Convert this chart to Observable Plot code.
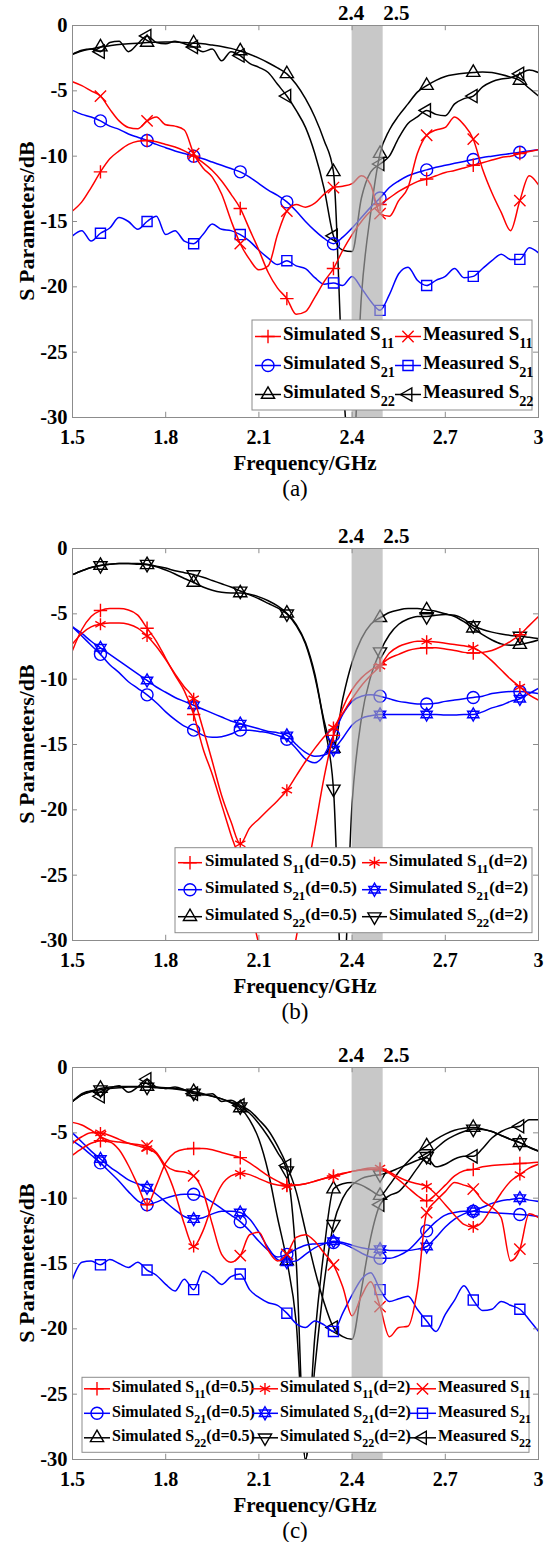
<!DOCTYPE html>
<html>
<head>
<meta charset="utf-8">
<script src="https://cdn.jsdelivr.net/npm/d3@7"></script>
<script src="https://cdn.jsdelivr.net/npm/@observablehq/plot@0.6"></script>
<style>
html,body{margin:0;padding:0;background:#fff;}
#root{position:relative;width:546px;height:1542px;overflow:hidden;background:#fff;}
.panel{position:absolute;left:0;width:546px;}
</style>
</head>
<body>
<div id="root"></div>
<script>
// ---------- shared axes ----------
const freq = [1.5,1.53,1.56,1.59,1.62,1.65,1.68,1.71,1.74,1.77,1.8,1.83,1.86,1.89,1.92,1.95,1.98,2.01,2.04,2.07,2.1,2.13,2.16,2.19,2.22,2.25,2.28,2.31,2.34,2.37,2.4,2.43,2.46,2.49,2.52,2.55,2.58,2.61,2.64,2.67,2.7,2.73,2.76,2.79,2.82,2.85,2.88,2.91,2.94,2.97,3.0];
const markerFreqs = [1.59,1.74,1.89,2.04,2.19,2.34,2.49,2.64,2.79,2.94];
const xTicks = [1.5,1.8,2.1,2.4,2.7,3.0];
const xTickLabels = ["1.5","1.8","2.1","2.4","2.7","3"];
const yTicks = [0,-5,-10,-15,-20,-25,-30];
const yTickLabels = ["0","-5","-10","-15","-20","-25","-30"];
const yDomain = [-30, 0];
const bandEdges = [2.4, 2.5];
const bandLabels = ["2.4", "2.5"];
const captions = ["(a)", "(b)", "(c)"];

// ---------- panel (a) ----------
const aSimS11 = [-14.2,-13.5,-12.4,-11.2,-10.2,-9.6,-9.1,-8.85,-8.8,-8.9,-9.1,-9.3,-9.6,-10.0,-10.5,-11.1,-11.9,-12.9,-14.0,-15.6,-17.2,-18.9,-20.1,-20.9,-22.1,-21.9,-20.8,-19.6,-18.6,-17.2,-16.0,-15.0,-14.2,-13.7,-13.2,-12.7,-12.3,-11.95,-11.75,-11.5,-11.25,-11.1,-10.9,-10.7,-10.5,-10.3,-10.1,-10.0,-9.8,-9.65,-9.5];
const aMeasS11 = [-4.3,-4.6,-5.0,-5.4,-6.4,-7.3,-7.8,-7.9,-7.3,-7.0,-7.6,-7.7,-8.0,-9.8,-10.9,-11.6,-12.9,-14.9,-16.7,-17.9,-18.7,-18.4,-16.0,-14.2,-13.7,-13.9,-13.6,-12.9,-12.4,-12.3,-12.1,-11.5,-12.2,-14.4,-14.6,-13.4,-12.4,-9.8,-8.4,-8.0,-7.8,-7.0,-7.6,-8.7,-11.0,-12.8,-14.3,-15.7,-13.4,-11.5,-12.2];
const aSimS21 = [-6.5,-6.8,-7.0,-7.3,-7.7,-7.95,-8.3,-8.55,-8.8,-9.1,-9.35,-9.6,-9.8,-10.0,-10.2,-10.45,-10.7,-10.95,-11.2,-11.6,-12.1,-12.6,-13.0,-13.5,-14.2,-15.0,-15.7,-16.3,-16.7,-16.2,-15.5,-14.7,-13.9,-13.2,-12.4,-11.9,-11.5,-11.25,-11.05,-10.85,-10.7,-10.55,-10.4,-10.25,-10.1,-10.0,-9.9,-9.8,-9.7,-9.6,-9.5];
const aMeasS21 = [-16.1,-15.7,-16.5,-15.9,-15.5,-14.7,-15.0,-15.6,-15.0,-14.6,-16.0,-15.7,-16.5,-16.7,-16.0,-15.2,-15.6,-15.7,-16.0,-16.5,-17.2,-17.8,-18.3,-18.0,-18.4,-18.6,-19.3,-19.8,-19.7,-19.9,-19.2,-20.1,-21.1,-21.8,-20.6,-19.0,-18.5,-19.5,-19.9,-19.5,-19.2,-18.6,-19.3,-19.2,-18.6,-18.0,-17.5,-17.9,-17.9,-17.0,-17.4];
const aSimS22 = [-2.2,-1.95,-1.8,-1.65,-1.55,-1.45,-1.4,-1.35,-1.3,-1.28,-1.27,-1.27,-1.3,-1.35,-1.4,-1.5,-1.6,-1.75,-1.95,-2.2,-2.5,-2.85,-3.25,-3.7,-4.5,-5.6,-7.0,-8.8,-11.2,-27.0,-34.0,-20.7,-14.3,-9.8,-8.0,-6.9,-6.0,-5.1,-4.6,-4.2,-3.9,-3.75,-3.65,-3.6,-3.55,-3.6,-3.75,-3.95,-4.2,-4.8,-5.4];
const aMeasS22 = [-2.2,-1.9,-1.8,-2.0,-1.3,-1.2,-2.0,-1.4,-0.8,-1.3,-1.4,-1.2,-1.4,-1.65,-2.0,-1.8,-2.7,-2.0,-2.3,-2.9,-3.2,-3.6,-4.5,-5.4,-6.5,-7.8,-9.8,-12.5,-16.1,-17.2,-17.3,-13.2,-11.2,-10.6,-10.0,-8.6,-7.5,-7.0,-6.5,-6.8,-6.9,-6.0,-5.6,-5.4,-4.7,-4.3,-4.1,-4.0,-3.7,-3.4,-3.6];

// ---------- panel (b) ----------
const bS11d05 = [-7.8,-6.2,-5.2,-4.75,-4.6,-4.6,-4.7,-5.1,-6.1,-7.1,-8.4,-9.7,-10.9,-12.7,-15.3,-17.3,-19.6,-21.9,-24.0,-27.1,-30.3,-32.5,-33.5,-33.0,-29.8,-25.5,-21.5,-17.5,-14.3,-12.2,-10.8,-9.9,-9.3,-8.9,-8.4,-8.1,-7.8,-7.65,-7.6,-7.6,-7.7,-7.8,-7.95,-8.0,-7.95,-7.8,-7.5,-7.1,-6.6,-5.9,-5.2];
const bS11d2 = [-7.3,-6.5,-6.0,-5.8,-5.7,-5.7,-5.8,-6.1,-6.7,-7.5,-8.5,-9.6,-10.6,-11.5,-13.8,-16.3,-18.9,-20.9,-22.6,-21.4,-20.7,-20.0,-19.3,-18.5,-17.4,-16.3,-15.3,-14.4,-13.7,-12.6,-11.5,-10.5,-9.7,-9.0,-8.0,-7.5,-7.25,-7.1,-7.1,-7.15,-7.25,-7.35,-7.45,-7.6,-8.0,-8.6,-9.3,-10.0,-10.6,-11.2,-11.6];
const bS21d05 = [-6.0,-6.7,-7.4,-8.1,-8.9,-9.5,-10.2,-10.7,-11.2,-11.8,-12.5,-13.1,-13.6,-13.9,-14.3,-14.45,-14.4,-14.2,-13.9,-13.9,-14.0,-14.1,-14.3,-14.6,-15.3,-16.1,-16.4,-15.8,-14.3,-12.7,-11.7,-11.3,-11.2,-11.3,-11.5,-11.7,-11.8,-11.9,-11.9,-11.85,-11.7,-11.6,-11.5,-11.4,-11.3,-11.1,-11.0,-10.95,-10.95,-11.0,-11.1];
const bS21d2 = [-6.0,-6.5,-7.1,-7.6,-8.1,-8.6,-9.1,-9.6,-10.1,-10.6,-11.0,-11.4,-11.7,-12.0,-12.3,-12.6,-12.9,-13.2,-13.4,-13.6,-13.8,-14.0,-14.1,-14.3,-15.0,-15.6,-15.9,-15.8,-15.4,-14.5,-13.5,-13.0,-12.8,-12.7,-12.7,-12.7,-12.7,-12.7,-12.7,-12.7,-12.75,-12.75,-12.7,-12.7,-12.5,-12.2,-12.0,-11.7,-11.5,-11.1,-10.7];
const bS22d05 = [-2.0,-1.7,-1.45,-1.3,-1.2,-1.15,-1.15,-1.2,-1.25,-1.4,-1.65,-1.95,-2.3,-2.6,-2.95,-3.2,-3.35,-3.4,-3.4,-3.5,-3.7,-4.0,-4.4,-4.95,-5.8,-7.2,-9.6,-13.2,-15.3,-11.5,-8.7,-6.9,-5.8,-5.3,-4.9,-4.7,-4.6,-4.6,-4.7,-4.8,-5.0,-5.2,-5.6,-6.1,-6.6,-7.0,-7.3,-7.4,-7.35,-7.2,-7.0];
const bS22d2 = [-2.0,-1.7,-1.45,-1.3,-1.2,-1.15,-1.15,-1.15,-1.2,-1.35,-1.5,-1.7,-1.85,-2.0,-2.2,-2.45,-2.7,-2.95,-3.25,-3.55,-3.85,-4.2,-4.55,-5.0,-5.9,-7.3,-9.8,-13.5,-18.4,-34.0,-19.5,-13.0,-9.8,-7.9,-6.6,-5.8,-5.4,-5.2,-5.2,-5.1,-5.05,-5.1,-5.4,-5.9,-6.2,-6.4,-6.55,-6.65,-6.7,-6.8,-6.9];

// ---------- panel (c) ----------
const cS11d05 = [-6.7,-6.2,-5.8,-5.6,-5.7,-6.3,-7.5,-9.0,-10.5,-9.0,-7.3,-6.5,-6.25,-6.2,-6.2,-6.3,-6.5,-6.7,-6.9,-7.3,-7.8,-8.3,-8.7,-9.0,-9.0,-8.9,-8.7,-8.5,-8.3,-8.1,-7.95,-7.85,-7.8,-7.8,-8.1,-8.6,-9.2,-9.8,-10.2,-9.7,-9.0,-8.3,-7.9,-7.8,-7.6,-7.5,-7.45,-7.4,-7.35,-7.3,-7.25];
const cS11d2 = [-5.8,-5.3,-5.0,-5.0,-5.2,-5.5,-5.8,-6.0,-6.2,-6.6,-7.8,-9.6,-12.0,-13.7,-12.5,-10.5,-9.0,-8.3,-8.1,-8.2,-8.5,-8.8,-9.0,-9.1,-9.0,-8.9,-8.7,-8.5,-8.35,-8.15,-7.95,-7.8,-7.7,-7.7,-8.0,-8.4,-8.7,-8.9,-9.1,-9.7,-10.5,-11.3,-12.0,-12.2,-11.8,-10.7,-9.6,-8.7,-8.2,-7.7,-7.4];
const cMeasS11 = [-4.2,-4.4,-4.8,-5.3,-5.6,-5.7,-5.8,-5.9,-6.0,-6.5,-7.5,-7.9,-8.0,-8.3,-9.5,-12.0,-14.3,-14.9,-14.4,-12.8,-12.6,-14.0,-14.8,-14.3,-13.0,-12.8,-13.3,-14.2,-15.1,-16.8,-19.0,-17.5,-16.4,-18.3,-20.6,-19.9,-19.8,-17.0,-11.1,-10.2,-9.5,-8.8,-9.0,-9.3,-10.2,-10.7,-11.5,-14.8,-13.9,-11.2,-11.5];
const cS21d05 = [-5.6,-6.1,-6.7,-7.3,-8.0,-8.7,-9.5,-10.2,-10.5,-10.3,-10.0,-9.8,-9.7,-9.7,-9.9,-10.3,-10.8,-11.3,-11.8,-12.5,-13.3,-14.0,-14.5,-14.3,-13.9,-13.6,-13.5,-13.45,-13.4,-13.5,-13.8,-14.2,-14.5,-14.6,-14.6,-14.4,-14.0,-13.3,-12.5,-11.8,-11.3,-11.1,-11.0,-11.0,-11.05,-11.1,-11.15,-11.2,-11.25,-11.3,-11.4];
const cS21d2 = [-5.0,-5.7,-6.4,-7.0,-7.6,-8.1,-8.6,-8.9,-9.2,-9.7,-10.3,-10.9,-11.4,-11.6,-11.5,-11.2,-11.0,-11.0,-11.1,-11.6,-12.6,-13.8,-14.7,-14.9,-14.8,-14.3,-13.8,-13.5,-13.3,-13.4,-13.6,-13.8,-13.9,-13.9,-14.0,-14.0,-14.0,-13.9,-13.7,-13.0,-12.2,-11.6,-11.2,-11.0,-10.7,-10.4,-10.2,-10.1,-10.0,-10.15,-10.25];
const cMeasS21 = [-16.2,-14.9,-14.8,-15.1,-14.7,-15.0,-15.3,-14.9,-15.5,-15.9,-16.6,-17.1,-16.2,-17.0,-15.6,-16.0,-16.6,-16.0,-15.8,-17.0,-17.6,-18.0,-18.2,-18.8,-19.6,-19.9,-19.4,-19.7,-20.2,-18.8,-17.4,-16.2,-15.7,-17.0,-17.9,-17.7,-17.5,-18.5,-19.4,-20.2,-18.9,-17.8,-16.7,-17.8,-18.6,-18.5,-17.9,-18.2,-18.5,-19.3,-20.2];
const cS22d05 = [-2.6,-2.1,-1.8,-1.6,-1.5,-1.45,-1.45,-1.45,-1.45,-1.5,-1.55,-1.6,-1.7,-1.85,-2.0,-2.2,-2.4,-2.7,-3.1,-4.0,-5.5,-8.0,-11.5,-14.8,-19.5,-30.0,-20.6,-13.9,-9.3,-8.9,-8.8,-9.0,-9.4,-9.8,-9.0,-8.0,-7.2,-6.5,-6.0,-5.5,-5.1,-4.8,-4.65,-4.6,-4.7,-4.9,-5.2,-5.5,-5.75,-6.1,-6.4];
const cS22d2 = [-2.6,-2.1,-1.85,-1.7,-1.6,-1.55,-1.5,-1.5,-1.5,-1.55,-1.6,-1.65,-1.75,-1.95,-2.05,-2.2,-2.4,-2.65,-3.0,-3.5,-4.3,-5.3,-6.5,-7.9,-14.8,-30.0,-23.0,-16.5,-12.0,-10.0,-9.0,-8.5,-8.3,-8.2,-8.0,-7.7,-7.4,-7.1,-6.8,-6.2,-5.6,-5.2,-4.9,-4.7,-4.75,-4.9,-5.2,-5.5,-5.75,-6.1,-6.4];
const cMeasS22 = [-2.6,-2.0,-1.8,-2.2,-1.6,-1.4,-1.9,-1.5,-0.9,-1.5,-1.6,-1.5,-1.7,-2.0,-2.1,-2.0,-2.6,-2.5,-2.9,-3.3,-4.0,-4.8,-6.0,-7.5,-9.5,-12.5,-15.5,-18.0,-19.9,-20.6,-20.8,-17.0,-13.0,-10.5,-9.8,-9.5,-8.7,-7.7,-6.9,-7.6,-7.4,-7.0,-6.8,-6.8,-6.2,-5.4,-4.9,-4.6,-4.5,-4.0,-4.0];

// ---------- styles ----------
const FONT = "Liberation Serif, Times New Roman, serif";
const RED = "#ff0000", BLUE = "#0000ff", BLACK = "#000000", AXIS = "#8c8c8c";
const triPts = (size) => { const s = Math.sqrt(size) * 0.6824; return [s, s / 2, s * Math.sqrt(3) / 2]; };
const triDown = {draw(c, size){ const [s,t,u] = triPts(size); c.moveTo(0, s); c.lineTo(u, -t); c.lineTo(-u, -t); c.closePath(); }};
const triLeft = {draw(c, size){ const [s,t,u] = triPts(size); c.moveTo(-s, 0); c.lineTo(t, -u); c.lineTo(t, u); c.closePath(); }};
const triUp = d3.symbolTriangle2;

const STY = {
  plus:     {stroke: RED,   marks: [{type: d3.symbolPlus, r: 4.4}]},
  asterisk: {stroke: RED,   marks: [{type: d3.symbolAsterisk, r: 5.6}]},
  times:    {stroke: RED,   marks: [{type: d3.symbolTimes, r: 5.2}]},
  circle:   {stroke: BLUE,  marks: [{type: d3.symbolCircle, r: 6}]},
  hexagram: {stroke: BLUE,  marks: [{type: triUp, r: 5.4}, {type: triDown, r: 5.4}]},
  square:   {stroke: BLUE,  marks: [{type: d3.symbolSquare2, r: 6.4}]},
  tup:      {stroke: BLACK, marks: [{type: triUp, r: 6.3}]},
  tdown:    {stroke: BLACK, marks: [{type: triDown, r: 6.3}]},
  tleft:    {stroke: BLACK, marks: [{type: triLeft, r: 6.3}]}
};

const isMarker = f => markerFreqs.some(m => Math.abs(m - f) < 1e-9);
const toRows = vals => freq.map((f, i) => ({f, v: vals[i]}));

function seriesMarks(vals, key) {
  const st = STY[key];
  const data = toRows(vals);
  const md = data.filter(d => isMarker(d.f) && d.v >= yDomain[0] && d.v <= yDomain[1]);
  const out = [Plot.line(data, {x: "f", y: "v", stroke: st.stroke, strokeWidth: 1.5, curve: "monotone-x", clip: true})];
  for (const m of st.marks) {
    out.push(Plot.dot(md, {x: "f", y: "v", symbol: m.type, r: m.r, stroke: st.stroke, strokeWidth: 1.4, fill: "none", clip: true}));
  }
  return out;
}

// ---------- layout ----------
const W = 546, H = 500, MT = 25, MB = 83, ML = 72, MR = 8;
const frameH = H - MT - MB;

const panels = [
  {
    top: 0,
    series: [[aSimS22,"tup"],[aMeasS22,"tleft"],[aMeasS21,"square"],[aSimS21,"circle"],[aMeasS11,"times"],[aSimS11,"plus"]],
    legend: {
      fontSize: 19, box: [252, 320, 532, 410], rows: [336.5, 365.5, 394.5],
      cols: [[255, 281, 283], [395, 421, 423]],
      entries: [
        {key:"plus", col:0,row:0, label:["Simulated S","11",""]},
        {key:"times",col:1,row:0, label:["Measured S","11",""]},
        {key:"circle",col:0,row:1,label:["Simulated S","21",""]},
        {key:"square",col:1,row:1,label:["Measured S","21",""]},
        {key:"tup",col:0,row:2,label:["Simulated S","22",""]},
        {key:"tleft",col:1,row:2,label:["Measured S","22",""]}
      ]
    }
  },
  {
    top: 523.3,
    series: [[bS22d05,"tup"],[bS22d2,"tdown"],[bS21d05,"circle"],[bS21d2,"hexagram"],[bS11d05,"plus"],[bS11d2,"asterisk"]],
    legend: {
      fontSize: 17, box: [175, 848, 532, 933], rows: [863, 890, 917],
      cols: [[178, 202, 205], [362, 387, 389]],
      entries: [
        {key:"plus",col:0,row:0,label:["Simulated S","11","(d=0.5)"]},
        {key:"asterisk",col:1,row:0,label:["Simulated S","11","(d=2)"]},
        {key:"circle",col:0,row:1,label:["Simulated S","21","(d=0.5)"]},
        {key:"hexagram",col:1,row:1,label:["Simulated S","21","(d=2)"]},
        {key:"tup",col:0,row:2,label:["Simulated S","22","(d=0.5)"]},
        {key:"tdown",col:1,row:2,label:["Simulated S","22","(d=2)"]}
      ]
    }
  },
  {
    top: 1041.7,
    series: [[cS22d05,"tup"],[cS22d2,"tdown"],[cMeasS22,"tleft"],[cMeasS21,"square"],[cS21d05,"circle"],[cS21d2,"hexagram"],[cMeasS11,"times"],[cS11d05,"plus"],[cS11d2,"asterisk"]],
    legend: {
      fontSize: 16, box: [82, 1377, 529, 1452], rows: [1388.5, 1413, 1437.5],
      cols: [[84, 110, 112], [252, 278, 280], [409, 436, 438]],
      entries: [
        {key:"plus",col:0,row:0,label:["Simulated S","11","(d=0.5)"]},
        {key:"asterisk",col:1,row:0,label:["Simulated S","11","(d=2)"]},
        {key:"times",col:2,row:0,label:["Measured S","11",""]},
        {key:"circle",col:0,row:1,label:["Simulated S","21","(d=0.5)"]},
        {key:"hexagram",col:1,row:1,label:["Simulated S","21","(d=2)"]},
        {key:"square",col:2,row:1,label:["Measured S","21",""]},
        {key:"tup",col:0,row:2,label:["Simulated S","22","(d=0.5)"]},
        {key:"tdown",col:1,row:2,label:["Simulated S","22","(d=2)"]},
        {key:"tleft",col:2,row:2,label:["Measured S","22",""]}
      ]
    }
  }
];

function drawLegend(svg, L, top) {
  const g = svg.append("g")
    .style("font-family", FONT).style("font-weight", "bold").style("font-size", L.fontSize + "px")
    .attr("text-anchor", "start");
  g.append("rect").attr("x", L.box[0]).attr("y", L.box[1] - top)
    .attr("width", L.box[2] - L.box[0]).attr("height", L.box[3] - L.box[1])
    .style("fill", "#ffffff").style("fill-opacity", 1).style("stroke", AXIS).style("stroke-width", 1);
  for (const e of L.entries) {
    const col = L.cols[e.col], y = L.rows[e.row] - top, st = STY[e.key];
    g.append("line").attr("x1", col[0]).attr("x2", col[1]).attr("y1", y).attr("y2", y)
      .style("stroke", st.stroke).style("stroke-width", 1.5);
    for (const m of st.marks) {
      g.append("path").attr("d", d3.symbol(m.type, Math.PI * m.r * m.r)())
        .attr("transform", `translate(${(col[0] + col[1]) / 2},${y})`)
        .style("fill", "none").style("stroke", st.stroke).style("stroke-width", 1.4);
    }
    const t = g.append("text").attr("x", col[2]).attr("y", y + L.fontSize * 0.2)
      .attr("text-anchor", "start").style("text-anchor", "start").style("fill", "black");
    t.append("tspan").text(e.label[0]);
    t.append("tspan").style("font-size", (L.fontSize * 0.75) + "px").attr("dy", L.fontSize * 0.38).text(e.label[1]);
    if (e.label[2]) t.append("tspan").attr("dy", -L.fontSize * 0.38).text(e.label[2]);
  }
}

function addText(svg, x, y, txt, size, weight, anchor, transform) {
  const t = svg.append("text").attr("x", x).attr("y", y)
    .style("font-family", FONT).style("font-size", size + "px").style("font-weight", weight)
    .attr("text-anchor", anchor).style("text-anchor", anchor).style("fill", "black").text(txt);
  if (transform) t.attr("transform", transform);
  return t;
}

const root = document.getElementById("root");
panels.forEach((P, pi) => {
  const marks = [];
  for (const [vals, key] of P.series) marks.push(...seriesMarks(vals, key));
  marks.push(
    Plot.rect([bandEdges], {x1: d => d[0], x2: d => d[1], y1: yDomain[0], y2: yDomain[1], fill: "#aaaaaa", fillOpacity: 0.65}),
    Plot.text([0], {x: () => bandEdges[0], y: yDomain[1], text: () => bandLabels[0], textAnchor: "middle", dx: -1, dy: -12, fontSize: 21, fontWeight: "bold", fill: "black"}),
    Plot.text([0], {x: () => bandEdges[1], y: yDomain[1], text: () => bandLabels[1], textAnchor: "start", dy: -12, fontSize: 21, fontWeight: "bold", fill: "black"}),
    Plot.ruleX(xTicks, {x: d => d, y1: yDomain[0], y2: yDomain[0] + 0.4, stroke: AXIS}),
    Plot.ruleX(xTicks, {x: d => d, y1: yDomain[1], y2: yDomain[1] - 0.4, stroke: AXIS}),
    Plot.ruleY(yTicks, {y: d => d, x1: xTicks[0], x2: xTicks[0] + 0.016, stroke: AXIS}),
    Plot.ruleY(yTicks, {y: d => d, x1: xTicks[xTicks.length - 1], x2: xTicks[xTicks.length - 1] - 0.016, stroke: AXIS}),
    Plot.frame({stroke: AXIS}),
    Plot.axisX(xTicks, {tickSize: 0, tickPadding: 12, tickFormat: d => xTickLabels[xTicks.indexOf(d)], label: null, fontSize: 20, fontWeight: "bold"}),
    Plot.axisY(yTicks, {tickSize: 0, tickPadding: 5, tickFormat: d => yTickLabels[yTicks.indexOf(d)], label: null, fontSize: 20.5, fontWeight: "bold"})
  );
  const svgEl = Plot.plot({
    width: W, height: H,
    marginTop: MT, marginBottom: MB, marginLeft: ML, marginRight: MR,
    x: {domain: [xTicks[0], xTicks[xTicks.length - 1]]},
    y: {domain: yDomain},
    style: {fontFamily: FONT, fontSize: "20px", fontWeight: "bold", background: "white", color: "black", overflow: "visible"},
    marks
  });
  const svg = d3.select(svgEl);
  addText(svg, 0, 0, "S Parameters/dB", 22, "bold", "middle", `translate(34,${MT + frameH / 2}) rotate(-90)`);
  addText(svg, (ML + W - MR) / 2, MT + frameH + 53, "Frequency/GHz", 21, "bold", "middle");
  addText(svg, 295, MT + frameH + 79, captions[pi], 23, "normal", "middle");
  drawLegend(svg, P.legend, P.top);
  const div = document.createElement("div");
  div.className = "panel";
  div.style.top = P.top + "px";
  div.appendChild(svgEl);
  root.appendChild(div);
});
</script>
</body>
</html>
